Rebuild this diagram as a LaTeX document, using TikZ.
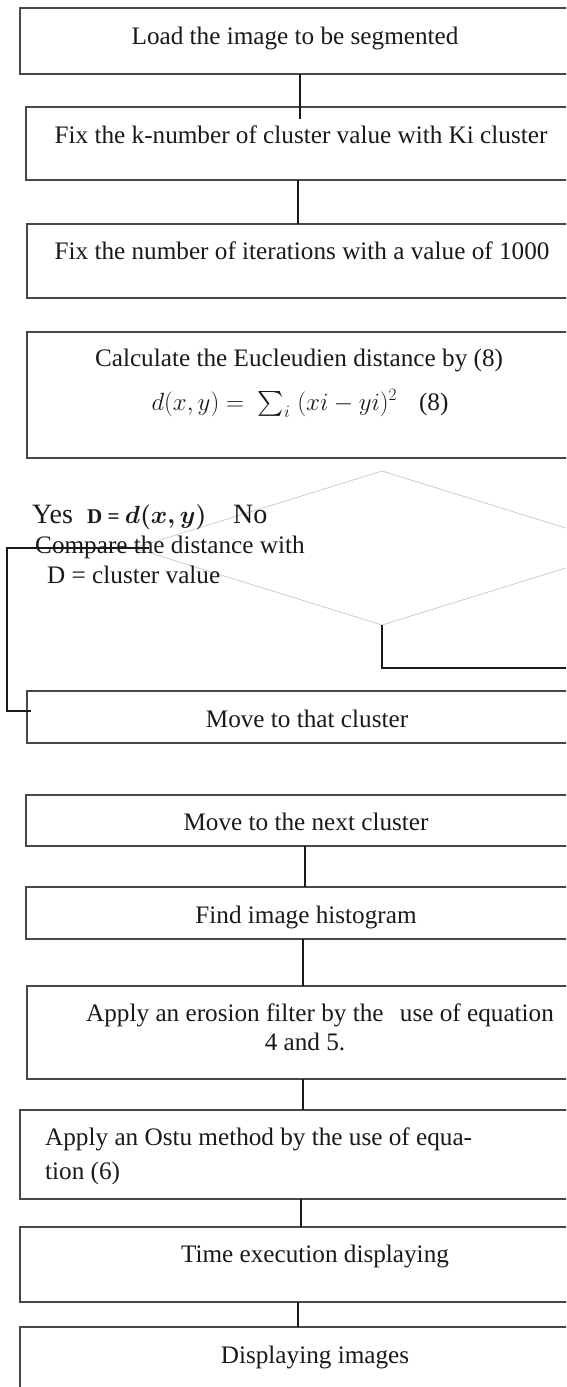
\documentclass[tikz,border=0pt]{standalone}
\usepackage{fontspec}
\usepackage{amsmath}
\setmainfont{Liberation Serif}
\usetikzlibrary{shapes.geometric}
\definecolor{boxgray}{HTML}{484848}
\definecolor{diagray}{HTML}{C8C8C8}
\definecolor{ink}{HTML}{1A1A1A}
\begin{document}
\begin{tikzpicture}[x=1pt,y=-1pt,
  box/.style={draw=boxgray, line width=1.3pt, rectangle, inner sep=0pt, outer sep=0pt,
              anchor=north west, minimum width=580pt},
  txt/.style={font=\fontsize{25.2}{30}\selectfont, text=ink, inner sep=0pt, anchor=base},
  conn/.style={draw=ink, line width=2.2pt}]
\useasboundingbox (0,0) rectangle (566,1387);
\clip (0,0) rectangle (566,1387);
\fill[white] (0,0) rectangle (566,1387);

% boxes
\node[box, minimum height=66pt]  (b1)  at (20,8)    {};
\node[box, minimum height=73pt]  (b2)  at (26,107)  {};
\node[box, minimum height=74pt]  (b3)  at (27,224)  {};
\node[box, minimum height=126pt] (b4)  at (27,332)  {};
\node[box, minimum height=52pt]  (b5)  at (27,691)  {};
\node[box, minimum height=51pt]  (b6)  at (26,795)  {};
\node[box, minimum height=52pt]  (b7)  at (26,887)  {};
\node[box, minimum height=93pt]  (b8)  at (27,986)  {};
\node[box, minimum height=89pt]  (b9)  at (20,1110) {};
\node[box, minimum height=75pt]  (b10) at (20,1227) {};
\node[box, minimum height=100pt] (b11) at (20,1327) {};

% decision
\node[diamond, draw=diagray, line width=0.7pt, minimum width=496pt, minimum height=154pt,
      inner sep=0pt, outer sep=0pt] (dec) at (382,548) {};

% texts
\node[txt] (t1) at (295,44) {Load the image to be segmented};
\node[txt] (t2) at (301,143) {Fix the k-number of cluster value with Ki cluster};
\node[txt] (t3) at (302,259) {Fix the number of iterations with a value of 1000};
\node[txt] (t4a) at (299,366) {Calculate the Eucleudien distance by (8)};
\node[txt] (t4b) at (300,410) {$d(x,y) =\;\sum_i\;(xi - yi)^2$\hspace{22pt}(8)};
\node[txt, anchor=base west, font=\fontsize{28}{30}\selectfont] (yes) at (32,523) {Yes};
\node[txt, anchor=base west, font=\fontsize{21}{24}\selectfont\bfseries] (deq) at (87,523) {D = {\fontsize{24}{26}\selectfont$\boldsymbol{d(x,y)}$}};
\node[txt, anchor=base west, font=\fontsize{28}{30}\selectfont] (no) at (233,523) {No};
\node[txt, anchor=base west] (cmp1) at (35,553) {Compare the distance with};
\node[txt, anchor=base west] (cmp2) at (47,583) {D = cluster value};
\node[txt] (t5) at (307,727) {Move to that cluster};
\node[txt] (t6) at (306,830) {Move to the next cluster};
\node[txt] (t7) at (306,923) {Find image histogram};
\node[txt, anchor=base west] (t8a) at (86,1021) {Apply an erosion filter by the\hspace{10pt} use of equation};
\node[txt] (t8b) at (305,1050) {4 and 5.};
\node[txt, anchor=base west] (t9a) at (45,1145) {Apply an Ostu method by the use of equa-};
\node[txt, anchor=base west] (t9b) at (45,1179) {tion (6)};
\node[txt] (t10) at (315,1262) {Time execution displaying};
\node[txt] (t11) at (315,1363) {Displaying images};

% connectors
\draw[conn] ([xshift=280pt]b1.south west) -- ([xshift=274pt,yshift=-12pt]b2.north west);
\draw[conn] ([xshift=272pt]b2.south west) -- ([xshift=271pt]b3.north west);
\coordinate (yl) at (7,711);
\draw[conn] ([xshift=15pt]dec.west) -| (yl) -- ([xshift=4pt,yshift=-20pt]b5.north west);
\coordinate (noend) at (600,668);
\draw[conn] (dec.south) |- (noend);
\draw[conn] ([xshift=279pt]b6.south west) -- ([xshift=279pt]b7.north west);
\draw[conn] ([xshift=277pt]b7.south west) -- ([xshift=276pt]b8.north west);
\draw[conn] ([xshift=276pt]b8.south west) -- ([xshift=283pt]b9.north west);
\draw[conn] ([xshift=281pt]b9.south west) -- ([xshift=281pt]b10.north west);
\draw[conn] ([xshift=278pt]b10.south west) -- ([xshift=278pt]b11.north west);
\end{tikzpicture}
\end{document}
